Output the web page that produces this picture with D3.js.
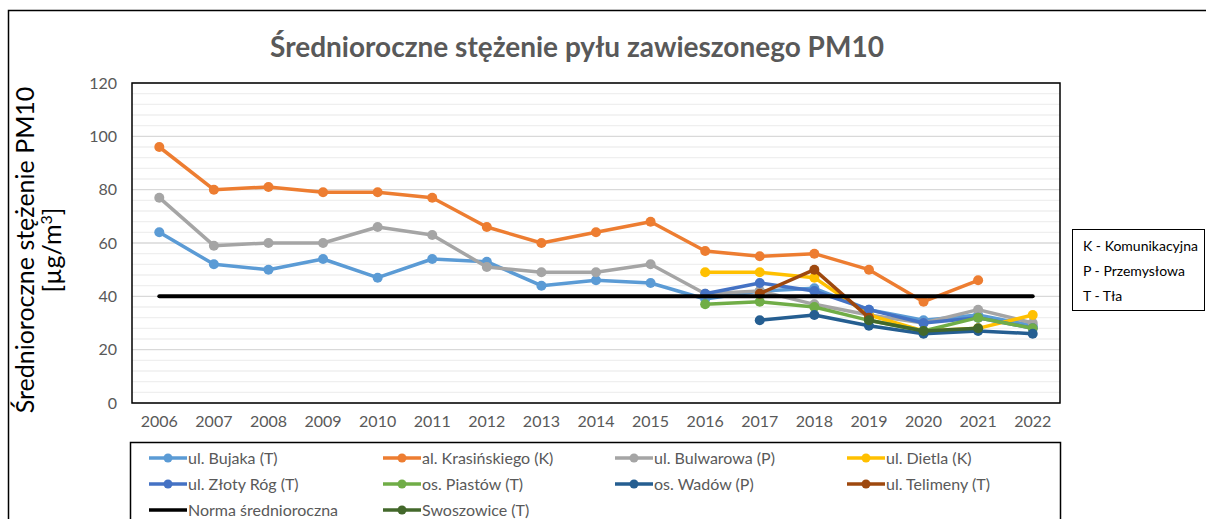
<!DOCTYPE html>
<html>
<head>
<meta charset="utf-8">
<script src="https://cdn.jsdelivr.net/npm/d3@7"></script>
<style>
  body { margin: 0; background: white; }
  text { font-family: Lato, "Open Sans", sans-serif; }
</style>
</head>
<body>
<div id="vis"></div>
<script>
// data
const years = ["2006","2007","2008","2009","2010","2011","2012","2013","2014","2015","2016","2017","2018","2019","2020","2021","2022"];
const bujaka      = [64, 52, 50, 54, 47, 54, 53, 44, 46, 45, 39, 42, 43, 35, 31, 33, 29];
const krasinskiego = [96, 80, 81, 79, 79, 77, 66, 60, 64, 68, 57, 55, 56, 50, 38, 46, null];
const bulwarowa   = [77, 59, 60, 60, 66, 63, 51, 49, 49, 52, 41, 42, 37, 33, 30, 35, 30];
const dietla      = [null, null, null, null, null, null, null, null, null, null, 49, 49, 47, 33, 27, 28, 33];
const zlotyRog    = [null, null, null, null, null, null, null, null, null, null, 41, 45, 42, 35, 30, 32, 28];
const piastow     = [null, null, null, null, null, null, null, null, null, null, 37, 38, 36, 31, 27, 32, 28];
const wadow       = [null, null, null, null, null, null, null, null, null, null, null, 31, 33, 29, 26, 27, 26];
const telimeny    = [null, null, null, null, null, null, null, null, null, null, null, 41, 50, 32, null, null, null];
const norma       = [40, 40, 40, 40, 40, 40, 40, 40, 40, 40, 40, 40, 40, 40, 40, 40, 40];
const swoszowice  = [null, null, null, null, null, null, null, null, null, null, null, null, null, 31, 27, 28, null];

const seriesNames = ["ul. Bujaka (T)", "al. Krasińskiego (K)", "ul. Bulwarowa (P)", "ul. Dietla (K)",
  "ul. Złoty Róg (T)", "os. Piastów (T)", "os. Wadów (P)", "ul. Telimeny (T)",
  "Norma średnioroczna", "Swoszowice (T)"];
const seriesValues = [bujaka, krasinskiego, bulwarowa, dietla, zlotyRog, piastow, wadow, telimeny, norma, swoszowice];
const seriesColors = ["#5B9BD5", "#ED7D31", "#A5A5A5", "#FFC000", "#4472C4", "#70AD47", "#255E91", "#9E480E", "#000000", "#43682B"];
const seriesMarkers = [true, true, true, true, true, true, true, true, false, true];

const yTicks = [0, 20, 40, 60, 80, 100, 120];
const typeLabels = ["K - Komunikacyjna", "P - Przemysłowa", "T - Tła"];

// dimensions
let width = 1206;
let height = 519;
let margin = { top: 83, bottom: 116, left: 132, right: 146 };

let svg = d3.select("#vis")
  .append("svg")
  .attr("width", width)
  .attr("height", height)
  .style("background", "white");

// outer chart frame
svg.append("rect")
  .attr("x", 8.5).attr("y", 10.5)
  .attr("width", 1220).attr("height", 540)
  .attr("fill", "none").attr("stroke", "#000").attr("stroke-width", 1.5);

// scales
let xScale = d3.scaleBand()
  .domain(years)
  .range([margin.left, width - margin.right])
  .padding(0);

let yScale = d3.scaleLinear()
  .domain([0, 120])
  .range([height - margin.bottom, margin.top]);

const xc = y => xScale(y) + xScale.bandwidth() / 2;

// gridlines: minor every 4, major every 20
let minorTicks = d3.range(0, 121, 4).filter(v => v % 20 !== 0);
svg.append("g").selectAll("line")
  .data(minorTicks)
  .enter().append("line")
  .attr("x1", margin.left).attr("x2", width - margin.right)
  .attr("y1", d => yScale(d)).attr("y2", d => yScale(d))
  .attr("stroke", "#efefef").attr("stroke-width", 1.3);

svg.append("g").selectAll("line")
  .data(yTicks)
  .enter().append("line")
  .attr("x1", margin.left).attr("x2", width - margin.right)
  .attr("y1", d => yScale(d)).attr("y2", d => yScale(d))
  .attr("stroke", "#d9d9d9").attr("stroke-width", 1.3);

// axes
let yAxis = svg.append("g")
  .attr("transform", `translate(${margin.left}, 0)`)
  .call(d3.axisLeft(yScale).tickValues(yTicks).tickSize(0).tickPadding(15));
yAxis.select(".domain").remove();
yAxis.selectAll("text")
  .style("font-family", "Lato, sans-serif")
  .style("font-size", "16px")
  .attr("fill", "#595959");

let xAxis = svg.append("g")
  .attr("transform", `translate(0, ${height - margin.bottom})`)
  .call(d3.axisBottom(xScale).tickSize(0).tickPadding(13));
xAxis.select(".domain").remove();
xAxis.selectAll("text")
  .style("font-family", "Lato, sans-serif")
  .style("font-size", "16px")
  .attr("fill", "#595959");

// plot area border
svg.append("rect")
  .attr("x", margin.left).attr("y", margin.top)
  .attr("width", width - margin.left - margin.right)
  .attr("height", height - margin.top - margin.bottom)
  .attr("fill", "none").attr("stroke", "#000").attr("stroke-width", 1.5);

// lines
let line = d3.line()
  .defined(d => d.v != null)
  .x(d => xc(d.year))
  .y(d => yScale(d.v));

seriesValues.forEach(function(vals, i) {
  let pts = years.map((y, j) => ({ year: y, v: vals[j] }));
  let g = svg.append("g");
  g.append("path")
    .datum(pts)
    .attr("d", line)
    .attr("fill", "none")
    .attr("stroke", seriesColors[i])
    .attr("stroke-width", seriesMarkers[i] ? 3.5 : 4)
    .attr("stroke-linejoin", "round")
    .attr("stroke-linecap", "round");
  if (seriesMarkers[i]) {
    g.selectAll("circle")
      .data(pts.filter(d => d.v != null))
      .enter().append("circle")
      .attr("cx", d => xc(d.year))
      .attr("cy", d => yScale(d.v))
      .attr("r", 5)
      .attr("fill", seriesColors[i]);
  }
});

// title
svg.append("text")
  .attr("x", 577)
  .attr("y", 57)
  .attr("text-anchor", "middle")
  .style("font-size", "28px")
  .style("font-weight", "bold")
  .attr("fill", "#595959")
  .text("Średnioroczne stężenie pyłu zawieszonego PM10");

// y axis title
let yt = svg.append("text")
  .attr("transform", "translate(0, 250) rotate(-90)")
  .attr("text-anchor", "middle")
  .style("font-size", "25px")
  .attr("fill", "#000");
yt.append("tspan").attr("x", 0).attr("y", 34).text("Średnioroczne stężenie PM10");
let t2 = yt.append("tspan").attr("x", 0).attr("y", 61);
t2.append("tspan").text("[µg/m");
t2.append("tspan").attr("baseline-shift", "super").style("font-size", "16px").text("3");
t2.append("tspan").text("]");

// legend
svg.append("rect")
  .attr("x", 130.5).attr("y", 442.5)
  .attr("width", 930).attr("height", 100)
  .attr("fill", "white").attr("stroke", "#000").attr("stroke-width", 1.5);

let legendCols = [149, 383, 615, 847];
let legendRows = [458, 484, 510];
seriesNames.forEach(function(name, i) {
  let lx = legendCols[i % 4];
  let ly = legendRows[Math.floor(i / 4)];
  let g = svg.append("g").attr("transform", `translate(${lx}, ${ly})`);
  g.append("line")
    .attr("x1", 0).attr("x2", 38)
    .attr("stroke", seriesColors[i]).attr("stroke-width", 3.5);
  if (seriesMarkers[i]) {
    g.append("circle").attr("cx", 19).attr("r", 4.5).attr("fill", seriesColors[i]);
  }
  g.append("text")
    .attr("x", 39).attr("y", 5.5)
    .style("font-size", "16px")
    .attr("fill", "#595959")
    .text(name);
});

// station type box
svg.append("rect")
  .attr("x", 1072.5).attr("y", 229.5)
  .attr("width", 132).attr("height", 81)
  .attr("fill", "white").attr("stroke", "#000").attr("stroke-width", 1);

svg.append("g").selectAll("text")
  .data(typeLabels)
  .enter().append("text")
  .attr("x", 1083)
  .attr("y", (d, i) => 251 + i * 25)
  .style("font-size", "14px")
  .attr("fill", "#000")
  .text(d => d);
</script>
</body>
</html>
